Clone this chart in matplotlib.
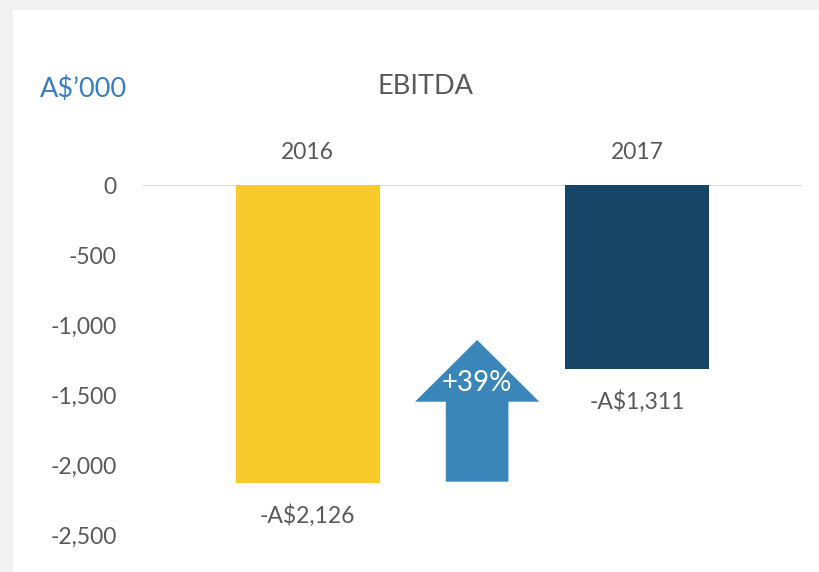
import matplotlib.pyplot as plt
from matplotlib.patches import Rectangle
from matplotlib.ticker import FuncFormatter

# data
years = ["2016", "2017"]
ebitda = [-2126, -1311]
bar_labels = ["-A$2,126", "-A$1,311"]
bar_colors = ["#F7CB29", "#174566"]
yticks = [0, -500, -1000, -1500, -2000, -2500]
change_label = "+39%"

plt.rcParams['font.family'] = ['Lato', 'DejaVu Sans']
grey = "#595959"

fig = plt.figure(figsize=(8.2, 5.72), dpi=100)
fig.patch.set_facecolor("#f2f2f2")
fig.patches.append(Rectangle((13 / 820, 0), 1, 1 - 10 / 572, transform=fig.transFigure,
                             facecolor="white", edgecolor="none", zorder=-10))

ax = fig.add_axes([143 / 820, 9 / 572, 659 / 820, 378 / 572])
ax.set_facecolor("none")
x = list(range(len(years)))
ax.bar(x, ebitda, width=0.437, color=bar_colors, zorder=2)
ax.axhline(0, color="#d9d9d9", linewidth=1.5, zorder=1)

for i, v in enumerate(ebitda):
    ax.annotate(bar_labels[i], (i, v), xytext=(0, -24), textcoords="offset points",
                ha="center", va="center", fontsize=16.5, color=grey)

# change arrow between the bars
ax.arrow(0.514, -2119, 0, 1012, width=0.19, head_width=0.377, head_length=441,
         length_includes_head=True, color="#3B86B9", linewidth=0, zorder=2)
ax.text(0.514, -1414, change_label, ha="center", va="center", fontsize=20,
        color="white", zorder=3)

ax.set_xlim(-0.5, 1.5)
ax.set_ylim(-2700, 0)
ax.set_yticks(yticks)
ax.yaxis.set_major_formatter(FuncFormatter(lambda v, p: f"{int(v):,}"))
ax.set_xticks(x)
ax.set_xticklabels(years)
ax.xaxis.tick_top()
ax.tick_params(axis="both", length=0, labelsize=16.5, labelcolor=grey)
ax.tick_params(axis="y", pad=19)
ax.tick_params(axis="x", pad=16)
for s in ax.spines.values():
    s.set_visible(False)

fig.text(426 / 820, 1 - 86 / 572, "EBITDA", ha="center", va="center", fontsize=19.5, color=grey)
fig.text(40 / 820, 1 - 89 / 572, "A$\u2019000", ha="left", va="center", fontsize=19.5, color="#3A7EBF")

fig.savefig("out.png", dpi=100, facecolor=fig.get_facecolor())
